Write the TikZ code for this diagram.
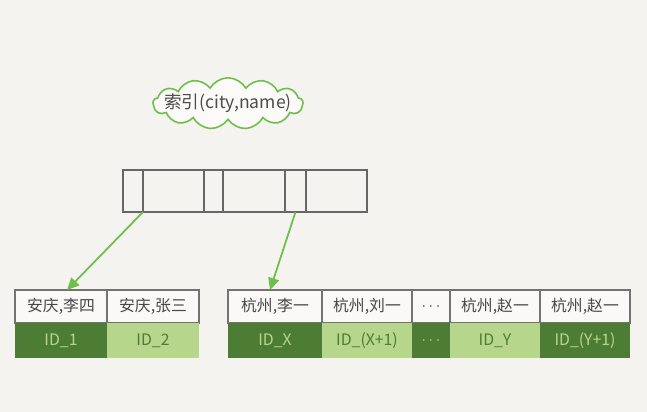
\documentclass[tikz,border=0pt]{standalone}
\usepackage{fontspec}
\newfontfamily\cjk{Noto Sans CJK SC}
\usepackage{xcolor}
\usetikzlibrary{arrows.meta,positioning,shapes.symbols}
\definecolor{paper}{HTML}{F4F3EF}
\definecolor{deepleaf}{HTML}{4D7C34}
\definecolor{paleleaf}{HTML}{B6D68C}
\definecolor{linkgreen}{HTML}{6CBF4A}

\begin{document}
\begin{tikzpicture}[
      node distance=0pt and 0pt,
      key/.style={draw=black!55, line width=0.8pt, fill=paper!50!white, minimum height=6.6mm,
          inner sep=0pt, outer sep=0pt, font=\cjk\fontsize{9}{10}\selectfont, text=black!72},
      iddark/.style={fill=deepleaf, minimum height=7mm, inner sep=0pt, outer sep=0pt,
          font=\cjk\fontsize{9}{10}\selectfont, text=paleleaf},
      idpale/.style={iddark, fill=paleleaf, text=deepleaf},
      slot/.style={draw=black!60, line width=0.8pt, minimum height=8.4mm, inner sep=0pt,
          outer sep=0pt},
      arrow/.style={-{Triangle[length=2.4mm,width=2.2mm]}, line width=1pt, draw=linkgreen}
    ]
    \fill[paper] (0,0) rectangle (12.94,-8.24);
    \useasboundingbox (0,0) rectangle (12.94,-8.24);

    % index label
    \node[cloud, cloud puffs=13, cloud puff arc=120, aspect=4, draw=linkgreen, line width=0.9pt,
          fill=white!60!paper, minimum width=3.0cm, minimum height=0.8cm,
          inner xsep=-3.2mm, inner ysep=0.3mm,
          font=\cjk\fontsize{10}{11}\selectfont, text=black!70] (label) at (4.56,-2.07) {索引(city,name)};

    % index page
    \node[slot, minimum width=4mm, anchor=north west] (p1) at (2.46,-3.4) {};
    \node[slot, minimum width=12.2mm, right=of p1] (p2) {};
    \node[slot, minimum width=3.8mm, right=of p2] (p3) {};
    \node[slot, minimum width=12.4mm, right=of p3] (p4) {};
    \node[slot, minimum width=4.2mm, right=of p4] (p5) {};
    \node[slot, minimum width=12.2mm, right=of p5] (p6) {};

    % left leaf
    \node[key, minimum width=18.4mm, anchor=north west] (k1) at (0.3,-5.8) {安庆,李四};
    \node[key, minimum width=18.4mm, right=of k1] (k2) {安庆,张三};
    \node[iddark, minimum width=18.4mm, below=of k1] (i1) {ID\_1};
    \node[idpale, minimum width=18.4mm, below=of k2] (i2) {ID\_2};

    % right leaf
    \node[key, minimum width=18.8mm, anchor=north west] (r1) at (4.56,-5.8) {杭州,李一};
    \node[key, minimum width=18mm, right=of r1] (r2) {杭州,刘一};
    \node[key, minimum width=7.6mm, right=of r2] (r3) {$\cdots$};
    \node[key, minimum width=18mm, right=of r3] (r4) {杭州,赵一};
    \node[key, minimum width=18mm, right=of r4] (r5) {杭州,赵一};
    \node[iddark, minimum width=18.8mm, below=of r1] (j1) {ID\_X};
    \node[idpale, minimum width=18mm, below=of r2] (j2) {ID\_(X+1)};
    \node[iddark, minimum width=7.6mm, below=of r3] (j3) {$\cdots$};
    \node[idpale, minimum width=18mm, below=of r4] (j4) {ID\_Y};
    \node[iddark, minimum width=18mm, below=of r5] (j5) {ID\_(Y+1)};

    \draw[arrow] (p1.south east) -- ([xshift=1.2mm]k1.north);
    \draw[arrow] (p5.south) -- ([xshift=-1mm]r1.north);
  \end{tikzpicture}
\end{document}
